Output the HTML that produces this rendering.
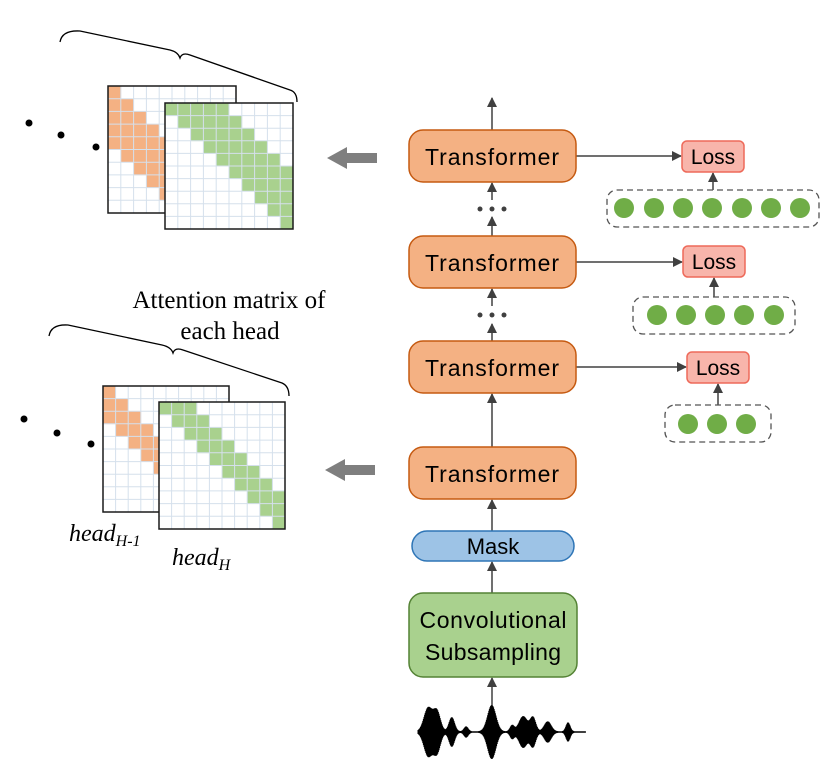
<!DOCTYPE html>
<html><head><meta charset="utf-8"><style>
html,body{margin:0;padding:0;background:#fff;}
svg{display:block;}
</style></head><body>
<svg id="s" width="831" height="769" viewBox="0 0 831 769" xmlns="http://www.w3.org/2000/svg">
<defs>
<marker id="ah" markerWidth="10" markerHeight="10" refX="9" refY="5" orient="auto" markerUnits="userSpaceOnUse">
<path d="M0,0 L10,5 L0,10 z" fill="#404040"/></marker>
</defs>
<g id="grids"></g>
<!-- braces -->
<path d="M60,42 Q62,30 80,31 L170,50 Q178,52 180,58 Q182,52 190,55 L290,90 Q297,92 297,102" fill="none" stroke="#000" stroke-width="1.3"/>
<path d="M49,336 Q51,324 68,325 L162,345 Q171,347 173,353 Q175,347 183,350 L282,383 Q289,386 289,396" fill="none" stroke="#000" stroke-width="1.3"/>
<!-- dots -->
<circle cx="29" cy="123" r="3.5" fill="#000"/><circle cx="61" cy="135" r="3.5" fill="#000"/><circle cx="96" cy="147" r="3.5" fill="#000"/>
<circle cx="24" cy="419" r="3.5" fill="#000"/><circle cx="57" cy="433" r="3.5" fill="#000"/><circle cx="91" cy="444" r="3.5" fill="#000"/>
<text x="229" y="308" font-family="Liberation Serif, serif" font-size="25" text-anchor="middle">Attention matrix of</text>
<text x="230" y="339" font-family="Liberation Serif, serif" font-size="25" text-anchor="middle">each head</text>
<text x="69" y="541" font-family="Liberation Serif, serif" font-size="24" font-style="italic">head<tspan font-size="16" dy="5">H-1</tspan></text>
<text x="172" y="565" font-family="Liberation Serif, serif" font-size="24" font-style="italic">head<tspan font-size="16" dy="5">H</tspan></text>
<!-- gray arrows -->
<path d="M327,158 L347,147 L347,153 L377,153 L377,163 L347,163 L347,169 z" fill="#7f7f7f"/>
<path d="M325,470 L345,459 L345,465 L375,465 L375,475 L345,475 L345,481 z" fill="#7f7f7f"/>
<!-- vertical connectors -->
<g stroke="#404040" stroke-width="1.5" fill="none">
<line x1="492" y1="130" x2="492" y2="98" marker-end="url(#ah)"/>
<line x1="492" y1="200" x2="492" y2="183" marker-end="url(#ah)"/>
<line x1="492" y1="236" x2="492" y2="217" marker-end="url(#ah)"/>
<line x1="492" y1="306" x2="492" y2="289" marker-end="url(#ah)"/>
<line x1="492" y1="341" x2="492" y2="324" marker-end="url(#ah)"/>
<line x1="492" y1="447" x2="492" y2="394" marker-end="url(#ah)"/>
<line x1="492" y1="531" x2="492" y2="500" marker-end="url(#ah)"/>
<line x1="492" y1="593" x2="492" y2="562" marker-end="url(#ah)"/>
<line x1="492" y1="705" x2="492" y2="678" marker-end="url(#ah)"/>
<line x1="576" y1="156" x2="681" y2="156" marker-end="url(#ah)"/>
<line x1="576" y1="262" x2="682" y2="262" marker-end="url(#ah)"/>
<line x1="576" y1="367" x2="686" y2="367" marker-end="url(#ah)"/>
<line x1="713" y1="190" x2="713" y2="173" marker-end="url(#ah)"/>
<line x1="714" y1="297" x2="714" y2="278" marker-end="url(#ah)"/>
<line x1="718" y1="405" x2="718" y2="384" marker-end="url(#ah)"/>
</g>
<g fill="#404040">
<circle cx="480" cy="209" r="2.5"/><circle cx="492" cy="209" r="2.5"/><circle cx="504" cy="209" r="2.5"/>
<circle cx="480" cy="315" r="2.5"/><circle cx="492" cy="315" r="2.5"/><circle cx="504" cy="315" r="2.5"/>
</g>
<!-- transformer boxes -->
<g fill="#f4b183" stroke="#c55a11" stroke-width="1.5">
<rect x="409" y="130" width="167" height="52" rx="14"/>
<rect x="409" y="236" width="167" height="52" rx="14"/>
<rect x="409" y="341" width="167" height="52" rx="14"/>
<rect x="409" y="447" width="167" height="52" rx="14"/>
</g>
<g font-family="Liberation Sans, sans-serif" font-size="23" text-anchor="middle" fill="#000">
<text x="492" y="165" textLength="134">Transformer</text>
<text x="492" y="271" textLength="134">Transformer</text>
<text x="492" y="376" textLength="134">Transformer</text>
<text x="492" y="482" textLength="134">Transformer</text>
</g>
<rect x="412" y="531" width="162" height="30" rx="15" fill="#9dc3e6" stroke="#2e75b6" stroke-width="1.5"/>
<text x="493" y="554" font-family="Liberation Sans, sans-serif" font-size="22" text-anchor="middle">Mask</text>
<rect x="409" y="593" width="168" height="84" rx="14" fill="#a9d18e" stroke="#548235" stroke-width="1.5"/>
<text x="493" y="628" font-family="Liberation Sans, sans-serif" font-size="23" text-anchor="middle" textLength="147">Convolutional</text>
<text x="493" y="660" font-family="Liberation Sans, sans-serif" font-size="23" text-anchor="middle" textLength="136">Subsampling</text>
<!-- loss -->
<g fill="#f8b5ab" stroke="#ee6a5a" stroke-width="1.5">
<rect x="682" y="141" width="62" height="31" rx="5"/>
<rect x="683" y="246" width="62" height="31" rx="5"/>
<rect x="687" y="352" width="62" height="31" rx="5"/>
</g>
<g font-family="Liberation Sans, sans-serif" font-size="21" text-anchor="middle">
<text x="713" y="164">Loss</text><text x="714" y="269">Loss</text><text x="718" y="375">Loss</text>
</g>
<g fill="none" stroke="#555" stroke-width="1.3" stroke-dasharray="6,4">
<rect x="607" y="190" width="212" height="37" rx="10"/>
<rect x="633" y="297" width="162" height="37" rx="10"/>
<rect x="665" y="405" width="106" height="37" rx="10"/>
</g>
<g fill="#70ad47">
<circle cx="624" cy="208" r="10"/><circle cx="654" cy="208" r="10"/><circle cx="683" cy="208" r="10"/><circle cx="712" cy="208" r="10"/><circle cx="742" cy="208" r="10"/><circle cx="771" cy="208" r="10"/><circle cx="800" cy="208" r="10"/>
<circle cx="657" cy="315" r="10"/><circle cx="686" cy="315" r="10"/><circle cx="715" cy="315" r="10"/><circle cx="744" cy="315" r="10"/><circle cx="774" cy="315" r="10"/>
<circle cx="688" cy="424" r="10"/><circle cx="717" cy="424" r="10"/><circle cx="746" cy="424" r="10"/>
</g>
<g id="wave"></g>
</svg>
<script>
var NS="http://www.w3.org/2000/svg";
var g=document.getElementById("grids");
function grid(x,y,w,h,color,fn){
  var cw=w/10,ch=h/10;
  var bg=document.createElementNS(NS,"rect");
  bg.setAttribute("x",x);bg.setAttribute("y",y);bg.setAttribute("width",w);bg.setAttribute("height",h);bg.setAttribute("fill","#fff");g.appendChild(bg);
  for(var r=0;r<10;r++)for(var c=0;c<10;c++){
    if(fn(r,c)){var e=document.createElementNS(NS,"rect");
      e.setAttribute("x",x+c*cw);e.setAttribute("y",y+r*ch);e.setAttribute("width",cw+0.3);e.setAttribute("height",ch+0.3);e.setAttribute("fill",color);g.appendChild(e);}
  }
  for(var i=1;i<10;i++){
    var l=document.createElementNS(NS,"line");l.setAttribute("x1",x+i*cw);l.setAttribute("x2",x+i*cw);l.setAttribute("y1",y);l.setAttribute("y2",y+h);l.setAttribute("stroke","#d5e0ec");l.setAttribute("stroke-width","1");g.appendChild(l);
    l=document.createElementNS(NS,"line");l.setAttribute("y1",y+i*ch);l.setAttribute("y2",y+i*ch);l.setAttribute("x1",x);l.setAttribute("x2",x+w);l.setAttribute("stroke","#d5e0ec");l.setAttribute("stroke-width","1");g.appendChild(l);
  }
  var b=document.createElementNS(NS,"rect");
  b.setAttribute("x",x);b.setAttribute("y",y);b.setAttribute("width",w);b.setAttribute("height",h);b.setAttribute("fill","none");b.setAttribute("stroke","#1a1a1a");b.setAttribute("stroke-width","1.5");g.appendChild(b);
}
grid(108,86,128,127,"#f4b183",function(r,c){return c<=r&&c>=r-4;});
grid(165,103,128,126,"#a9d18e",function(r,c){return c>=r&&c<=r+4;});
grid(103,386,126,126,"#f4b183",function(r,c){return c<=r&&c>=r-2;});
grid(159,402,126,127,"#a9d18e",function(r,c){return c>=r&&c<=r+2;});
// waveform
var w=document.getElementById("wave"),d="";
var env=function(x){var s=0;[[428,6,24],[437,5,20],[452,4,18],[466,3,6],[492,6,28],[512,3,8],[523,6,16],[533,4,14],[548,5,12],[568,3,10]].forEach(function(p){s+=p[2]*Math.exp(-Math.pow((x-p[0])/p[1],2));});return Math.min(s,28);};
for(var x=418;x<=586;x+=0.6){var a=env(x)*(0.65+0.35*Math.abs(Math.sin(x*5.3)))+0.7;d+="M"+x.toFixed(1)+","+(732-a).toFixed(1)+"L"+x.toFixed(1)+","+(732+a).toFixed(1);}
var p=document.createElementNS(NS,"path");p.setAttribute("d",d);p.setAttribute("stroke","#000");p.setAttribute("stroke-width","1");w.appendChild(p);
</script>
</body></html>
